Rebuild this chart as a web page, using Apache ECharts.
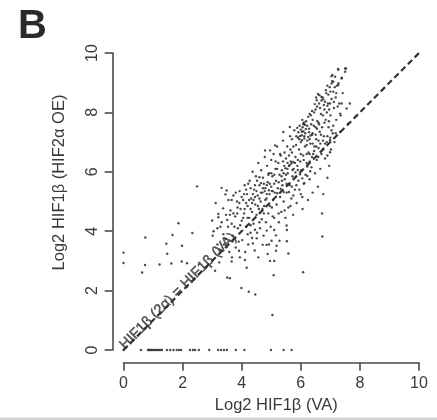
<!DOCTYPE html>
<html><head><meta charset="utf-8">
<script src="https://cdn.jsdelivr.net/npm/echarts@6/dist/echarts.min.js"></script>
<style>html,body{margin:0;padding:0;background:#fff}#c{width:437px;height:420px;filter:blur(0.5px)}</style>
</head><body><div id="c"></div>
<script>
const panelLetter = "B";
const xName = "Log2 HIF1β (VA)";
const yName = "Log2 HIF1β (HIF2α OE)";
const lineLabel = "HIF1β (2α) = HIF1β (VA)";
const tickValues = [0,2,4,6,8,10];
const diagonal = [[0,0],[10,10]];

// genes with no signal in the HIF2α OE sample (y = 0)
const zeroRowX = [0,.59,.83,.87,.91,.95,1.0,1.05,1.1,1.15,1.2,1.25,1.3,1.47,1.58,1.69,1.8,1.88,1.95,2.25,2.35,2.42,2.55,2.9,3.2,3.3,3.4,3.5,3.8,4.09,4.99,5.42,5.69];

// isolated points read one at a time
const sparsePoints = [[2.49,5.51],[3.32,5.46],[3.49,5.37],[3.45,5.24],[3.37,4.77],[3.21,4.58],[3.21,4.47],[3.0,4.36],[3.51,4.38],[1.86,4.27],[1.66,3.87],[2.33,3.94],[.74,3.79],[1.45,3.58],[1.98,3.51],[1.48,3.24],[0,3.28],[0,2.93],[.73,2.86],[1.22,2.88],[1.62,2.91],[1.97,2.98],[2.15,2.92],[.63,2.61],[3.1,2.67],[3.24,2.95],[3.02,3.85],[3.51,2.44],[6.73,3.82],[6.08,2.62],[5.08,2.52],[3.6,2.42],[3.99,2.09],[4.24,1.96],[4.46,1.87],[5.04,1.18],[5.58,3.25],[5.53,3.66],[4.96,3.0],[5.1,3.0],[4.88,3.23],[4.56,3.12],[4.17,2.77],[4.11,3.03],[3.94,3.12],[3.91,3.34],[3.66,2.98],[3.67,3.12],[5.16,3.34],[5.18,3.51],[5.28,3.68],[5.01,3.68],[4.71,3.54],[4.84,3.54],[4.92,3.55],[4.51,3.76],[4.35,3.77],[4.38,3.59],[4.2,3.9],[4.85,4.02],[5.1,4.04],[5.16,3.86],[5.52,4.19],[5.53,4.04]];

// main cloud, flat x,y pairs by stretch of x
const cloudLow = [3.05,4.0,3.12,4.95,3.18,3.55,3.28,4.15,3.38,3.9,3.47,4.55,3.55,5.05,3.58,3.3,3.62,4.7,3.66,4.25,3.7,3.85,3.72,5.2,3.78,4.5,3.8,3.45,3.84,5.0,3.87,4.1,3.9,3.65,3.93,5.35,3.96,4.75,4.0,4.35,4.02,3.7,4.05,5.05,4.08,4.6,4.1,5.55,4.12,3.3,4.15,4.15,4.18,5.25,4.2,4.85,4.22,3.55,4.25,4.45,4.27,5.7,4.3,3.95,4.32,5.1,4.35,4.65,4.37,6.0,4.4,4.25,4.42,5.4,4.44,3.35,4.46,4.9,4.48,5.85,4.5,4.55,4.52,3.95,4.54,5.2,4.56,6.3,4.58,4.75,4.6,5.55,4.62,4.1,4.64,5.0,4.66,6.05,4.68,4.4,4.7,5.3,4.72,5.8,4.74,3.85,4.76,4.85,4.78,6.5,4.8,5.45,4.82,4.3,4.84,5.1,4.86,6.2,4.88,5.65,4.9,4.6,4.92,5.95,4.94,5.25,4.96,6.72,4.98,4.15,5.0,5.5,5.0,6.4,5.02,4.8,5.04,5.85,5.06,5.05,5.08,6.6,5.1,4.45,5.12,5.3,5.14,6.1,5.16,5.7];
const cloudMid = [5.18,4.9,5.2,6.85,5.22,5.45,5.24,6.3,5.26,4.3,5.28,5.9,5.3,5.15,5.32,6.55,5.34,4.65,5.36,6.05,5.38,5.55,5.4,7.05,5.42,5.0,5.44,6.2,5.46,5.75,5.48,4.45,5.5,6.45,5.52,5.3,5.54,6.85,5.56,5.95,5.58,4.8,5.6,6.2,5.62,5.55,5.64,7.2,5.66,6.35,5.68,5.1,5.7,6.65,5.72,5.85,5.74,4.55,5.76,6.1,5.78,7.4,5.8,5.4,5.82,6.5,5.84,6.9,5.86,4.95,5.88,6.2,5.9,7.15,5.92,5.7,5.94,6.75,5.96,7.55,5.98,6.35,6.0,5.25,6.0,7.0,6.02,6.05,6.04,7.35,6.06,4.75,6.08,6.55,6.1,5.6,6.12,7.2,6.14,6.85,6.16,5.9,6.18,7.7,6.2,6.3,6.22,7.05,6.24,5.05,6.26,6.65,6.28,7.45,6.3,5.75,6.32,6.95,6.34,7.9,6.36,6.15,6.38,7.25,6.4,5.3,6.42,6.6,6.44,7.55,6.46,6.85,6.48,5.95,6.5,8.1];
const cloudHigh = [6.52,7.1,6.54,6.4,6.56,7.7,6.58,5.5,6.6,6.8,6.62,8.3,6.64,7.35,6.66,6.1,6.68,7.95,6.7,6.6,6.72,4.6,6.72,7.5,6.74,8.5,6.76,5.25,6.78,7.2,6.8,8.1,6.82,6.45,6.84,7.75,6.86,8.65,6.88,7.0,6.9,5.8,6.92,8.3,6.94,7.5,6.96,6.2,6.98,8.85,7.0,7.9,7.02,6.75,7.04,8.45,7.06,9.05,7.08,7.3,7.1,8.7,7.12,8.15,7.14,7.0,7.16,9.2,7.18,8.5,7.2,7.75,7.22,8.9,7.26,9.46,7.27,8.98,7.3,8.3,7.35,7.9,7.39,9.17,7.42,8.65,7.5,9.37,7.53,9.48,7.07,9.26,7.1,9.03,6.9,8.9,6.85,8.75,6.7,8.4,6.65,8.15,6.55,8.2,6.45,8.0,6.4,7.75,6.35,7.6,6.25,7.85,6.15,7.3,6.1,7.6,6.05,7.75,5.95,7.1,5.85,7.2,6.2,6.9,6.3,7.1,6.4,7.3,6.5,7.5,6.6,7.65,6.75,7.9,6.8,7.65,6.9,7.2,6.3,6.6,6.2,6.6,6.1,6.4,6.0,6.6,5.9,6.4,5.8,6.3,5.75,6.85,5.7,7.1,5.65,6.75,5.6,6.55,5.55,6.1,5.5,5.9,5.45,6.65,5.4,6.35,5.35,5.85,5.3,6.6,5.25,5.65,5.2,6.1,5.15,6.35,5.1,5.9,5.05,5.35,5.0,5.95,4.95,5.6,4.9,5.9,4.85,5.55,4.8,5.05,4.75,5.6,4.7,4.75,4.65,5.3,4.6,5.1,4.55,4.85,4.5,5.35,4.45,5.55,4.4,5.05,4.35,4.95,4.3,4.75,4.25,5.05,4.2,4.45,4.15,4.95,4.1,4.75,4.05,4.45,3.95,4.2,3.85,4.6,3.75,4.15];
const cloudKnots = [6.08,7.62,6.03,7.23,6.25,7.17,6.59,6.5,6.54,8.41,6.7,8.52,6.99,8.3,7.04,8.97,7.27,8.92,7.38,9.14,7.5,9.48,7.27,9.44,7.04,9.22,7.66,8.3,7.55,8.13,7.38,8.3,7.33,7.96,7.6,7.62,7.33,7.34,7.04,7.4,6.99,7.06,6.76,6.78,6.99,6.66,5.41,7.34,5.63,7.51,4.79,6.72,5.13,6.89,6.11,7.66,6.14,7.58,6.06,7.5,6.0,7.42,6.09,7.36,6.17,7.44,6.22,7.55,6.28,7.33,6.33,7.22,6.12,7.12,6.04,7.06,5.97,7.2,5.92,7.33,5.88,7.48,6.3,7.95,6.38,8.05,6.47,8.28,6.52,8.5,6.58,8.62,6.63,8.58,6.76,8.44,6.82,8.36,6.9,8.22,6.96,8.1,6.6,7.05,6.66,6.95,6.52,6.85,6.45,6.7,6.38,6.5,6.3,6.35,6.22,6.18,5.62,6.22,5.68,6.28,5.74,6.33,5.55,6.3,5.48,6.12,5.42,5.95,5.36,5.7,5.72,6.06,5.82,5.98,5.9,6.06,5.97,5.92,6.05,5.78,6.12,5.62,6.22,5.86,6.32,6.02,5.7,5.5,5.6,5.32,5.52,5.6,5.42,5.32,5.32,5.42,5.2,5.28,5.1,5.6,5.02,5.35,4.92,5.38,4.85,5.25,4.78,5.35,4.72,5.45,4.65,5.62,4.6,5.82,4.52,5.7,4.45,5.15,4.38,5.25,4.3,5.45,4.22,5.6,4.15,5.4,4.08,5.25,4.0,5.15,3.92,4.95,3.86,4.8,3.8,5.3,3.72,4.6,3.66,5.05,3.6,4.55,3.54,4.15,3.46,3.75,3.4,3.55,3.32,4.3,3.25,3.35,3.18,4.1,5.75,5.2,5.85,5.55,5.95,5.4,6.05,5.15,5.65,4.85,5.45,4.7,5.25,4.6,5.05,4.5,4.95,4.85,4.75,4.6,4.6,4.3,4.45,4.05,4.3,4.2,6.4,6.95,6.5,7.25,6.55,7.45,6.62,7.6,6.68,7.25,6.75,7.05,6.82,6.95,6.9,6.55,7.0,7.15,7.1,7.55,7.18,7.3,7.25,8.2,6.95,7.7,6.88,8.0,6.78,8.25,7.12,8.35,7.2,8.65,7.15,8.85,7.0,8.7,6.93,8.6];

const unpair = a => a.reduce((o,v,i)=>{ if(i%2===0) o.push([v,a[i+1]]); return o; },[]);
const allPoints = [...zeroRowX.map(x=>[x,0]),...sparsePoints,...unpair(cloudLow),...unpair(cloudMid),...unpair(cloudHigh),...unpair(cloudKnots)];

const ink = '#4a4a4a';
const txt = '#3a3a3a';
const axisCommon = {
  type:'value',min:0,max:10,interval:2,splitLine:{show:false},
  axisLine:{show:true,onZero:false,lineStyle:{color:ink,width:1.6}},
  axisTick:{show:true,length:8,lineStyle:{color:ink,width:1.6}},
  nameLocation:'middle'
};
const chart = echarts.init(document.getElementById('c'),null,{renderer:'canvas'});
chart.setOption({
  animation:false,backgroundColor:'#fff',
  title:{text:panelLetter,left:13,top:2,textStyle:{fontFamily:'Liberation Sans',fontSize:40,fontWeight:'bold',color:'#2a2a2a'}},
  grid:{left:123.5,right:18,top:53,bottom:70,containLabel:false},
  xAxis:{...axisCommon,offset:12.7,name:xName,nameGap:34,
    nameTextStyle:{fontFamily:'Liberation Sans',fontSize:16.5,color:txt,padding:[0,0,0,10]},
    axisLabel:{fontFamily:'Liberation Sans',fontSize:16,color:txt,margin:13,formatter:v=>tickValues.includes(v)?String(v):''}},
  yAxis:{...axisCommon,offset:10.8,name:yName,nameGap:45,
    nameTextStyle:{fontFamily:'Liberation Sans',fontSize:16.5,color:txt,padding:[0,0,0,38]},
    axisLabel:{fontFamily:'Liberation Sans',fontSize:16,color:txt,rotate:90,margin:12,formatter:v=>tickValues.includes(v)?String(v):''}},
  graphic:[{type:'rect',shape:{x:0,y:417.5,width:437,height:3},style:{fill:'#d4d4d4'},silent:true}],
  series:[
    {type:'line',data:diagonal,showSymbol:false,silent:true,lineStyle:{color:'#333',width:2.2,type:[6,3.6]},z:2},
    {type:'scatter',data:allPoints,symbol:'circle',symbolSize:2.4,itemStyle:{color:'#2a2a2a',opacity:.85},z:3,silent:true},
    {type:'scatter',data:[[1.85,1.98]],symbolSize:0,silent:true,z:4,
      label:{show:true,position:'inside',rotate:45,formatter:lineLabel,fontFamily:'Liberation Sans',fontSize:14.5,color:'#333',textBorderColor:'#333',textBorderWidth:.5}}
  ]
});
</script></body></html>
